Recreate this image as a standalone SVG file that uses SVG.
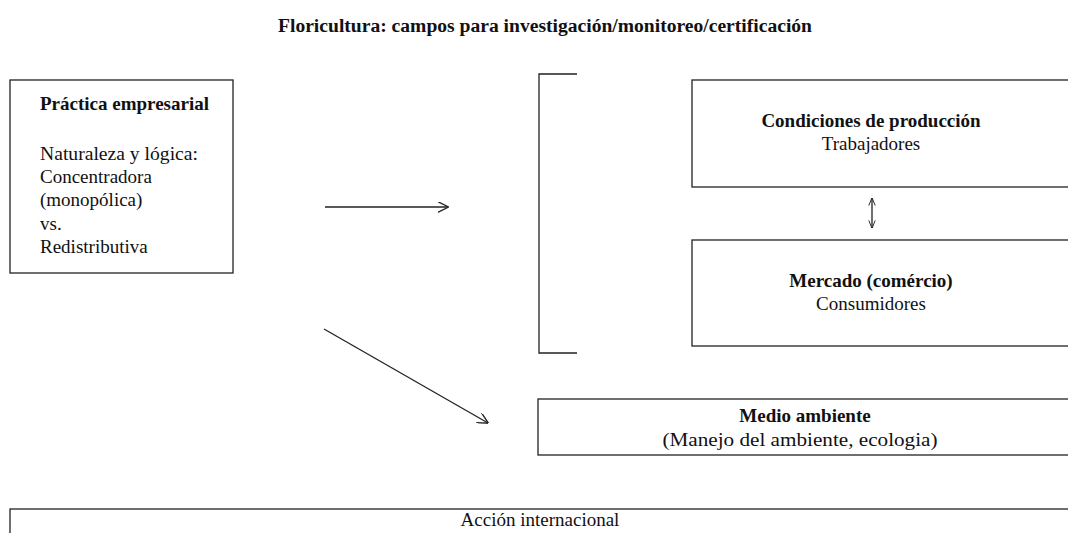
<svg xmlns="http://www.w3.org/2000/svg" width="1068" height="533" viewBox="0 0 1068 533">
<defs>
<style>
text{font-family:"Liberation Serif","DejaVu Serif",serif;fill:#111;}
.b{font-weight:bold;}
.t{font-size:19px;}
.box{fill:#fff;stroke:#222;stroke-width:1.3;}
.ln{fill:none;stroke:#222;stroke-width:1.3;}
.ah{fill:none;stroke:#222;stroke-width:1.2;}
</style>
<marker id="ao" viewBox="0 0 10 10" refX="9.5" refY="5" markerWidth="11" markerHeight="11" markerUnits="userSpaceOnUse" orient="auto-start-reverse">
<path d="M0,0 L10,5 L0,10" class="ah"/>
</marker>
<marker id="as" viewBox="0 0 10 10" refX="9.5" refY="5" markerWidth="8" markerHeight="8" markerUnits="userSpaceOnUse" orient="auto-start-reverse">
<path d="M0,1 L10,5 L0,9" class="ah"/>
</marker>
</defs>
<rect width="1068" height="533" fill="#fff"/>
<text id="title" x="545" y="32" text-anchor="middle" class="b" font-size="18.5" textLength="534" lengthAdjust="spacingAndGlyphs">Floricultura: campos para investigación/monitoreo/certificación</text>

<g id="practica">
<rect x="10" y="80" width="223" height="193" class="box"/>
<text x="40" y="110" class="b t">Práctica empresarial</text>
<text x="40" y="160" class="t" textLength="158" lengthAdjust="spacingAndGlyphs">Naturaleza y lógica:</text>
<text x="40" y="183" class="t">Concentradora</text>
<text x="40" y="206" class="t">(monopólica)</text>
<text x="40" y="230" class="t">vs.</text>
<text x="40" y="253" class="t">Redistributiva</text>
</g>

<g id="bracket">
<path d="M577,74 H539 V353 H577" class="ln"/>
</g>

<g id="condiciones">
<rect x="692" y="80" width="390" height="107" class="box"/>
<text x="871" y="127" text-anchor="middle" class="b t">Condiciones de producción</text>
<text x="871" y="150" text-anchor="middle" class="t">Trabajadores</text>
</g>

<g id="mercado">
<rect x="692" y="240" width="390" height="106" class="box"/>
<text x="871" y="287" text-anchor="middle" class="b t">Mercado (comércio)</text>
<text x="871" y="310" text-anchor="middle" class="t">Consumidores</text>
</g>

<g id="medio">
<rect x="538" y="399" width="544" height="56" class="box"/>
<text x="805" y="422" text-anchor="middle" class="b t">Medio ambiente</text>
<text x="800" y="446" text-anchor="middle" class="t" textLength="275" lengthAdjust="spacingAndGlyphs">(Manejo del ambiente, ecologia)</text>
</g>

<g id="accion">
<rect x="10" y="509" width="1072" height="40" class="box"/>
<text x="540" y="526" text-anchor="middle" class="t">Acción internacional</text>
</g>

<g id="connectors">
<line x1="325" y1="207" x2="448" y2="207" class="ln" marker-end="url(#ao)"/>
<line x1="324" y1="329" x2="488" y2="423" class="ln" marker-end="url(#ao)"/>
<line x1="872" y1="198" x2="872" y2="228" class="ln" stroke-width="1" marker-start="url(#as)" marker-end="url(#as)"/>
</g>
</svg>
